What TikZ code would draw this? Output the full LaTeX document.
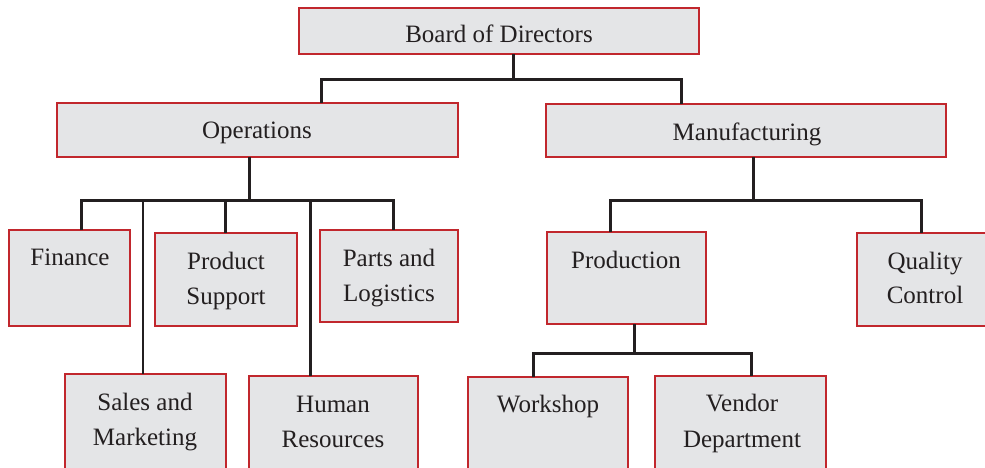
\documentclass[tikz,border=0pt]{standalone}
\usepackage{fontspec}
\setmainfont{Liberation Serif}
\definecolor{boxfill}{HTML}{E4E5E7}
\definecolor{boxred}{HTML}{C1272D}
\definecolor{ink}{HTML}{231F20}
\newcommand{\orgbox}[5]{\node[orgbox, minimum width={#4-#2}, minimum height={#5-#3}] (#1) at ({(#2+#4)/2},{(#3+#5)/2}) {};}
\newcommand{\orgtxt}[4]{\node[orgtxt] (#1) at (#2,#3) {#4};}
\tikzset{
  orgbox/.style={draw=boxred, fill=boxfill, line width=2.4pt, inner sep=0pt, outer sep=0pt},
  orgtxt/.style={anchor=base, inner sep=0pt, text=ink, font=\fontsize{25}{30}\selectfont},
  conn/.style={draw=ink, line width=3pt},
  thinconn/.style={draw=ink, line width=1.8pt}
}
\begin{document}
\begin{tikzpicture}[x=1pt, y=-1pt]
\useasboundingbox (0,0) rectangle (985,468);
% connectors first
\coordinate (j1) at (513,80);
\coordinate (b1l) at (321,80);
\coordinate (b1r) at (681,80);
\coordinate (j2) at (249,200);
\coordinate (b2l) at (81,200);
\coordinate (b2r) at (393,200);
\coordinate (d2a) at (143,200);
\coordinate (d2b) at (225,200);
\coordinate (d2c) at (310,200);
\coordinate (j3) at (753,200);
\coordinate (b3l) at (610,200);
\coordinate (b3r) at (921,200);
\coordinate (j4) at (634,353);
\coordinate (b4l) at (533,353);
\coordinate (b4r) at (751,353);
% boxes
\orgbox{board}{299}{8}{699}{54}
\orgbox{ops}{57}{103}{458}{157}
\orgbox{man}{546}{104}{946}{157}
\orgbox{fin}{9}{230}{130}{326}
\orgbox{ps}{155}{233}{297}{326}
\orgbox{pl}{320}{230}{458}{322}
\orgbox{sm}{65}{374}{226}{474}
\orgbox{hr}{249}{376}{418}{474}
\orgbox{prod}{547}{232}{706}{324}
\orgbox{qc}{857}{233}{990}{326}
\orgbox{ws}{468}{377}{628}{474}
\orgbox{vd}{655}{376}{826}{474}
% connectors
\draw[conn] (board.south -| j1) -- (j1);
\draw[conn] (ops.north -| b1l) -- (b1l) -- (b1r) -- (man.north -| b1r);
\draw[conn] (ops.south -| j2) -- (j2);
\draw[conn] (fin.north -| b2l) -- (b2l) -- (b2r) -- (pl.north -| b2r);
\draw[thinconn] (d2a) -- (sm.north -| d2a);
\draw[conn] (d2b) -- (ps.north -| d2b);
\draw[conn] (d2c) -- (hr.north -| d2c);
\draw[conn] (man.south -| j3) -- (j3);
\draw[conn] (prod.north -| b3l) -- (b3l) -- (b3r) -- (qc.north -| b3r);
\draw[conn] (prod.south -| j4) -- (j4);
\draw[conn] (ws.north -| b4l) -- (b4l) -- (b4r) -- (vd.north -| b4r);
% texts
\orgtxt{tboard}{499}{43}{Board of Directors}
\orgtxt{tops}{257}{139}{Operations}
\orgtxt{tman}{747}{140}{Manufacturing}
\orgtxt{tfin}{70}{265}{Finance}
\orgtxt{tpsa}{226}{269}{Product}
\orgtxt{tpsb}{226}{304}{Support}
\orgtxt{tpla}{389}{266}{Parts and}
\orgtxt{tplb}{389}{301}{Logistics}
\orgtxt{tsma}{145}{410}{Sales and}
\orgtxt{tsmb}{145}{445}{Marketing}
\orgtxt{thra}{333}{412}{Human}
\orgtxt{thrb}{333}{447}{Resources}
\orgtxt{tprod}{626}{268}{Production}
\orgtxt{tqca}{925}{269}{Quality}
\orgtxt{tqcb}{925}{303}{Control}
\orgtxt{tws}{548}{412}{Workshop}
\orgtxt{tvda}{742}{411}{Vendor}
\orgtxt{tvdb}{742}{447}{Department}
\end{tikzpicture}
\end{document}
